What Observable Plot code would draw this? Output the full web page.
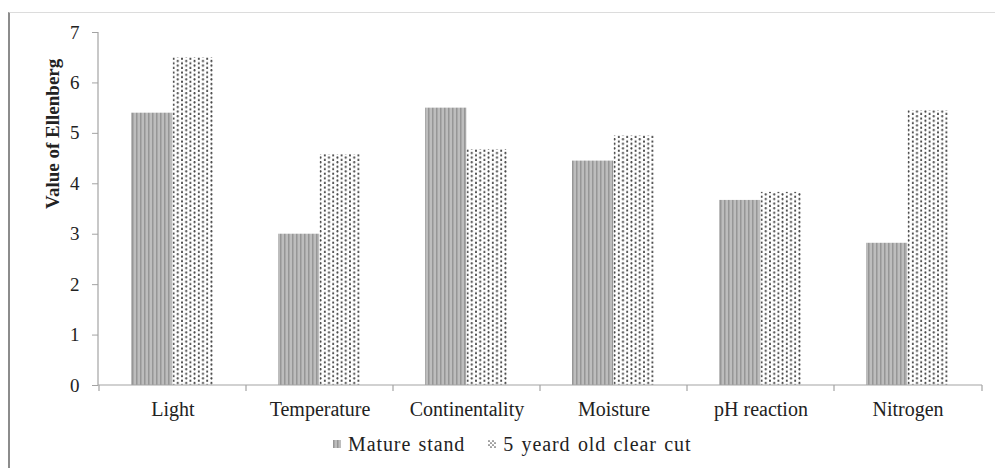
<!DOCTYPE html>
<html>
<head>
<meta charset="utf-8">
<script src="https://cdn.jsdelivr.net/npm/d3@7"></script>
<script src="https://cdn.jsdelivr.net/npm/@observablehq/plot@0.6"></script>
<style>
  html, body { margin: 0; padding: 0; background: #fff; }
  body { width: 995px; height: 468px; position: relative; overflow: hidden;
         font-family: "Liberation Serif", "Times New Roman", serif; color: #222; }
  #frame { position: absolute; left: 8px; top: 12px; width: 990px; height: 460px;
           border-left: 2px solid #8c8c8c; border-top: 1px solid #dcdcdc; pointer-events: none; }
  #chart svg { display: block; }
  #legend { display: flex; justify-content: flex-start; align-items: center; gap: 23px;
            margin-top: 9px; padding-left: 333px; font-size: 20px; letter-spacing: 0.9px;
            word-spacing: 1.5px; line-height: 20px; }
  #legend .item { display: flex; align-items: center; gap: 7px; }
  #legend .sw { width: 8px; height: 8px; display: inline-block; }
</style>
</head>
<body>
<svg width="0" height="0" style="position:absolute">
  <defs>
    <pattern id="pMature" patternUnits="userSpaceOnUse" width="4" height="4">
      <rect width="4" height="4" fill="#bdbdbd"></rect>
      <rect x="0" width="1.5" height="4" fill="#969696"></rect>
    </pattern>
    <pattern id="pClear" patternUnits="userSpaceOnUse" width="8.4" height="4.6">
      <rect width="8.4" height="4.6" fill="#ffffff"></rect>
      <ellipse cx="1.4" cy="1.2" rx="0.95" ry="1.3" fill="#404040"></ellipse>
      <ellipse cx="5.6" cy="3.5" rx="0.95" ry="1.3" fill="#404040"></ellipse>
    </pattern>
    <pattern id="pClearSw" patternUnits="userSpaceOnUse" width="4" height="4">
      <rect width="4" height="4" fill="#ffffff"></rect>
      <circle cx="1" cy="1" r="0.85" fill="#555"></circle>
      <circle cx="3" cy="3" r="0.85" fill="#555"></circle>
    </pattern>
  </defs>
</svg>
<div id="chart"></div>
<div id="legend">
  <span class="item"><svg class="sw"><rect width="8" height="8" fill="url(#pMature)"></rect></svg><span>Mature stand</span></span>
  <span class="item"><svg class="sw"><rect width="8" height="8" fill="url(#pClearSw)"></rect></svg><span>5 yeard old clear cut</span></span>
</div>
<div id="frame"></div>
<script>
const categories = ["Light", "Temperature", "Continentality", "Moisture", "pH reaction", "Nitrogen"];
const matureStand = [5.4, 3.0, 5.5, 4.45, 3.67, 2.82];
const clearCut = [6.5, 4.58, 4.68, 4.95, 3.83, 5.45];
const yTicks = [0, 1, 2, 3, 4, 5, 6, 7];
const yLabel = "Value of Ellenberg";

const rows = categories.map((c, i) => ({category: c, mature: matureStand[i], clear: clearCut[i]}));

const W = 995, H = 425, ML = 98, MR = 13, MT = 32, MB = 40;
const band = (W - ML - MR) / categories.length;
const gap = 32;
const barW = (band - 2 * gap) / 2;

function axisFrame(index, scales, values, dimensions) {
  const {x, y} = scales;
  const x0 = dimensions.marginLeft, x1 = dimensions.width - dimensions.marginRight;
  const y0 = y(0), yT = y(d3.max(yTicks));
  const g = d3.create("svg:g").attr("stroke", "#a3a3a3").attr("fill", "none").attr("stroke-width", 1.2);
  g.append("line").attr("x1", x0).attr("x2", x0).attr("y1", yT).attr("y2", y0);
  g.append("line").attr("x1", x0).attr("x2", x1).attr("y1", y0).attr("y2", y0);
  const bounds = x.domain().map(d => x(d)).concat([x1]);
  for (const b of bounds) {
    g.append("line").attr("x1", b).attr("x2", b).attr("y1", y0).attr("y2", y0 + 6);
  }
  return g.node();
}

const plot = Plot.plot({
  width: W, height: H,
  marginLeft: ML, marginRight: MR, marginTop: MT, marginBottom: MB,
  style: {fontFamily: '"Liberation Serif", "Times New Roman", serif', fontSize: "20px", color: "#222", background: "transparent", overflow: "visible"},
  x: {type: "band", domain: categories, padding: 0},
  y: {domain: [0, 7]},
  marks: [
    Plot.barY(rows, {x: "category", y: "mature", fill: "url(#pMature)", insetLeft: gap, insetRight: gap + barW}),
    Plot.barY(rows, {x: "category", y: "clear", fill: "url(#pClear)", insetLeft: gap + barW, insetRight: gap}),
    Plot.axisY({ticks: yTicks, tickFormat: d => String(d), tickSize: 6, tickPadding: 13, stroke: "#a3a3a3", fontSize: 19, label: null}),
    Plot.axisX({tickSize: 0, tickPadding: 16, fontSize: 20, label: null, style: {letterSpacing: "0.8px"}}),
    axisFrame,
    Plot.text([yLabel], {frameAnchor: "left", rotate: -90, dx: -46, fontWeight: "bold", fontSize: 19, fill: "#222"})
  ]
});
document.getElementById("chart").appendChild(plot);
</script>
</body>
</html>
